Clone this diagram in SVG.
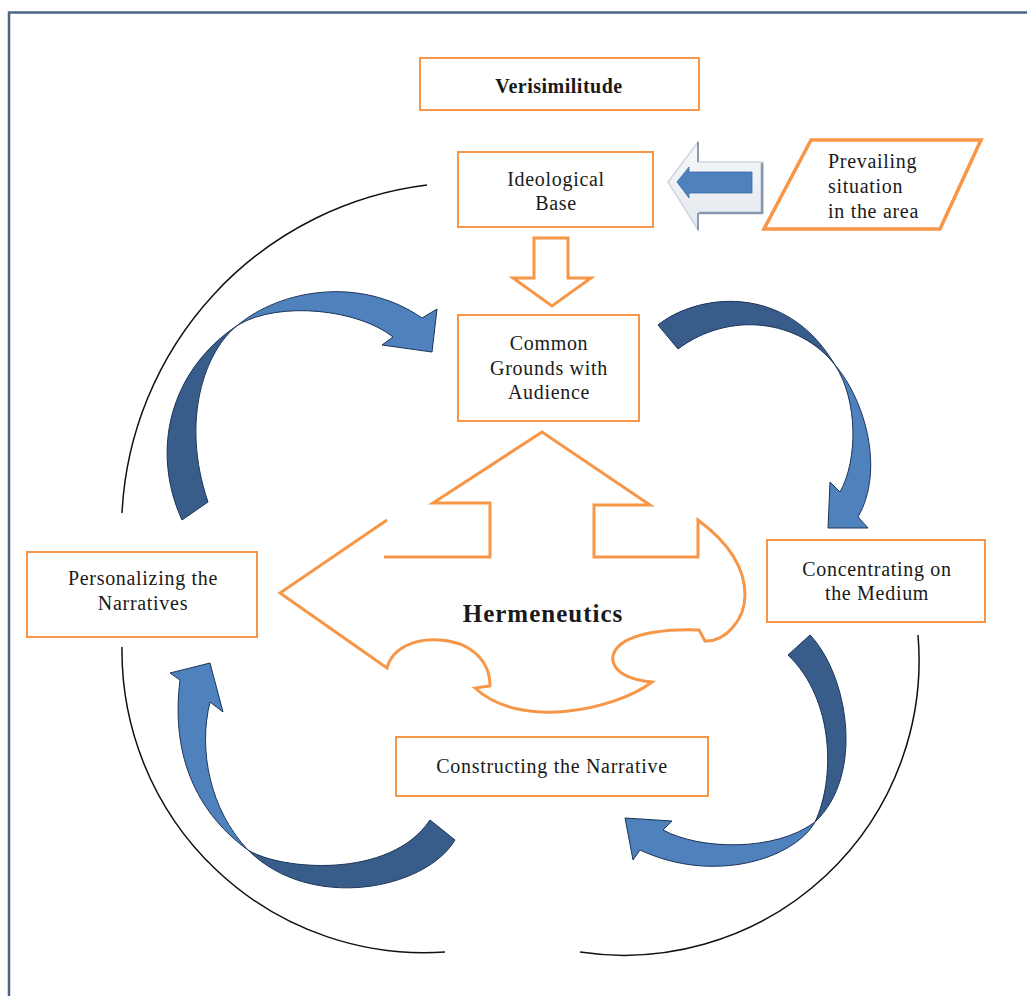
<svg xmlns="http://www.w3.org/2000/svg" width="1027" height="996" viewBox="0 0 1027 996">
<style>
.box{fill:#fff;stroke:#f79646;stroke-width:2}
.t{font-family:"Liberation Serif","Times New Roman",serif;font-size:20px;fill:#1a1a1a;text-anchor:middle;letter-spacing:0.7px}
.tl{text-anchor:start}
.b{font-weight:bold}
.arc{fill:none;stroke:#111;stroke-width:1.5}
.dk{fill:#385d8a;stroke:#1c3459;stroke-width:1}
.lt{fill:#4f81bd;stroke:#1c3459;stroke-width:1}
.or{fill:none;stroke:#f79646;stroke-width:3;stroke-linejoin:miter}
</style>
<defs>
<linearGradient id="g3d" x1="0" y1="0" x2="0" y2="1">
<stop offset="0" stop-color="#f6f8fa"/>
<stop offset="1" stop-color="#e4e9ef"/>
</linearGradient>
</defs>
<rect x="0" y="0" width="1027" height="996" fill="#fff"/>
<path d="M9,996 V12.5 H1027" fill="none" stroke="#4b6584" stroke-width="2.5"/>

<g id="connectors">
<path class="arc" d="M427,185 A348,348 0 0 0 122,513"/>
<path class="arc" d="M122,647 A302,302 0 0 0 445,952"/>
<path class="arc" d="M918,635 A295,295 0 0 1 580,952"/>

<g id="arrow-top-left">
<path class="dk" d="M182,520 C150,450 170,370 238,325 C205,350 180,420 208,502 Z"/>
<path class="lt" d="M238,325 C280,290 360,275 422,318 L437,309 L432,352 L382,345 L393,337 C360,310 280,300 238,325 Z"/>
</g>
<g id="arrow-top-right">
<path class="dk" d="M658,325 C695,295 785,280 835,365 C800,320 730,310 678,349 Z"/>
<path class="lt" d="M835,365 C865,400 885,470 858,517 L868,528 L828,528 L830,482 L840,492 C858,460 858,400 835,365 Z"/>
</g>
<g id="arrow-bottom-right">
<path class="dk" d="M810,635 C848,675 865,775 815,822 C835,780 835,700 788,655 Z"/>
<path class="lt" d="M815,822 C795,858 715,885 640,850 L633,860 L625,818 L672,821 L663,830 C700,850 775,852 815,822 Z"/>
</g>
<g id="arrow-bottom-left">
<path class="dk" d="M455,840 C425,890 310,912 248,850 C280,870 390,880 430,820 Z"/>
<path class="lt" d="M248,850 C200,815 170,760 180,680 L170,673 L210,663 L223,712 L210,702 C198,750 210,810 248,850 Z"/>
</g>

<g id="arrow-prevailing-to-base">
<path d="M668,182 L698,142 L698,162 L763,162 L763,213 L698,213 L698,230 Z" fill="url(#g3d)" stroke="#cfd6df" stroke-width="1.5"/>
<path d="M698,142 V162 M698,213 V230" stroke="#8a9bb2" stroke-width="2" fill="none"/>
<path d="M762,163 V213 H699" stroke="#8597ae" stroke-width="2.5" fill="none"/>
<path d="M677,182 L689,167 L689,172 L752,172 L752,193 L689,193 L689,198 Z" fill="#4f81bd" stroke="#3d6aa3" stroke-width="0.8"/>
</g>

<g id="arrow-base-to-common">
<path class="or" d="M534,238 H568 V278 H591 L552,306 L513,278 H534 Z"/>
</g>
</g>

<g id="node-verisimilitude">
<rect class="box" x="420" y="58" width="279" height="52"/>
<text class="t b" x="559" y="93" style="letter-spacing:0.5px">Verisimilitude</text>
</g>

<g id="node-ideological-base">
<rect class="box" x="458" y="152" width="195" height="75"/>
<text class="t" x="556" y="186">Ideological</text>
<text class="t" x="556" y="210">Base</text>
</g>

<g id="node-prevailing">
<path d="M811,140 H981 L940,229 H764 Z" fill="#fff" stroke="#f79646" stroke-width="3.5"/>
<text class="t tl" x="828" y="168">Prevailing</text>
<text class="t tl" x="828" y="193">situation</text>
<text class="t tl" x="828" y="218">in the area</text>
</g>

<g id="node-common-grounds">
<rect class="box" x="458" y="315" width="181" height="106"/>
<text class="t" x="549" y="350">Common</text>
<text class="t" x="549" y="375">Grounds with</text>
<text class="t" x="549" y="399">Audience</text>
</g>

<g id="node-hermeneutics">
<path class="or" d="M384,557 L490,557 L490,503 L433,503 L542,432 L650,505 L594,505 L594,557 L698,557 L698,520 C725,540 745,565 745,595 C745,620 725,642 705,641 L699,630 C670,629 635,632 620,645 C605,658 612,678 652,682 C615,710 520,730 475,688 L490,686 C490,660 470,642 440,640 C415,638 392,648 387,668 L280,593 L387,520"/>
<text class="t b" x="543" y="622" style="font-size:25px;letter-spacing:1px">Hermeneutics</text>
</g>

<g id="node-concentrating">
<rect class="box" x="767" y="540" width="218" height="82"/>
<text class="t" x="877" y="576">Concentrating on</text>
<text class="t" x="877" y="600">the Medium</text>
</g>

<g id="node-personalizing">
<rect class="box" x="27" y="552" width="230" height="85"/>
<text class="t" x="143" y="585">Personalizing the</text>
<text class="t" x="143" y="610">Narratives</text>
</g>

<g id="node-constructing">
<rect class="box" x="396" y="737" width="312" height="59"/>
<text class="t" x="552" y="773">Constructing the Narrative</text>
</g>
</svg>
